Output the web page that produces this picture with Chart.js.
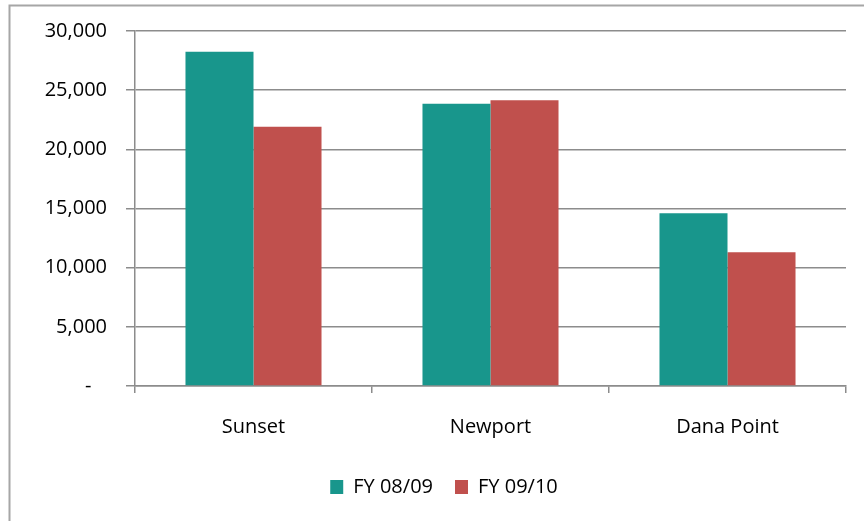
<!DOCTYPE html>
<html>
<head>
<meta charset="utf-8">
<script src="https://cdn.jsdelivr.net/npm/chart.js@4/dist/chart.umd.min.js"></script>
<style>
  html, body { margin: 0; padding: 0; background: #ffffff; }
  #wrap { position: relative; width: 864px; height: 521px; }
</style>
</head>
<body>
<div id="wrap"><canvas id="c" width="864" height="521"></canvas></div>
<script>
// Visitor counts by location, two fiscal years
const categories = ['Sunset', 'Newport', 'Dana Point'];
const fy0809 = [28250, 23850, 14600];
const fy0910 = [21900, 24150, 11300];
const seriesNames = ['FY 08/09', 'FY 09/10'];
const yTicks = [0, 5000, 10000, 15000, 20000, 25000, 30000];

const gridColor = '#8c8c8c';
const fontFamily = '"Open Sans", "Noto Sans", sans-serif';

// Light frame around the whole chart
const framePlugin = {
  id: 'frame',
  beforeDraw(chart) {
    const ctx = chart.ctx;
    ctx.save();
    ctx.fillStyle = '#ffffff';
    ctx.fillRect(0, 0, chart.width, chart.height);
    ctx.strokeStyle = '#a6a6a6';
    ctx.lineWidth = 2;
    ctx.strokeRect(9.5, 5.5, chart.width + 20, chart.height + 20);
    ctx.restore();
  }
};

new Chart(document.getElementById('c'), {
  type: 'bar',
  data: {
    labels: categories,
    datasets: [
      { label: seriesNames[0], data: fy0809, backgroundColor: '#18968c' },
      { label: seriesNames[1], data: fy0910, backgroundColor: '#c0504d' }
    ]
  },
  options: {
    responsive: false,
    animation: false,
    devicePixelRatio: 1,
    layout: { padding: { left: 42, right: 18, top: 31, bottom: 14 } },
    datasets: {
      bar: { categoryPercentage: 0.574, barPercentage: 1.0 }
    },
    scales: {
      x: {
        grid: {
          display: true,
          drawOnChartArea: false,
          drawTicks: true,
          tickLength: 7,
          color: gridColor,
          lineWidth: 1.5
        },
        border: { display: true, color: gridColor, width: 1.5 },
        ticks: {
          color: '#000000',
          padding: 22,
          font: { family: fontFamily, size: 20 }
        },
        afterFit(scale) { scale.height = 69; }
      },
      y: {
        min: 0,
        max: 30000,
        afterBuildTicks(scale) { scale.ticks = yTicks.map(v => ({ value: v })); },
        grid: {
          color: gridColor,
          lineWidth: 1.5,
          tickLength: 9,
          drawTicks: true
        },
        border: { display: true, color: gridColor, width: 1.5 },
        ticks: {
          color: '#000000',
          padding: 19,
          font: { family: fontFamily, size: 20 },
          callback(v) { return v === 0 ? '-   ' : v.toLocaleString('en-US'); }
        },
        afterFit(scale) { scale.width = 93; }
      }
    },
    plugins: {
      legend: {
        position: 'bottom',
        labels: {
          color: '#000000',
          boxWidth: 13,
          boxHeight: 14,
          padding: 22,
          font: { family: fontFamily, size: 20 }
        }
      },
      tooltip: { enabled: false }
    }
  },
  plugins: [framePlugin]
});
</script>
</body>
</html>
